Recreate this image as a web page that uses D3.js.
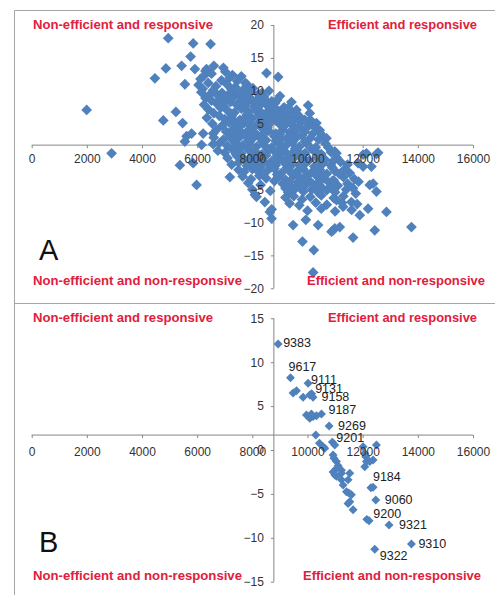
<!DOCTYPE html>
<html>
<head>
<meta charset="utf-8">
<script src="https://cdn.jsdelivr.net/npm/d3@7"></script>
<style>
  body { margin: 0; background: #fff; }
  svg { display: block; font-family: 'Liberation Sans', Arial, sans-serif; }
</style>
</head>
<body>
<div id="vis"></div>
<script>
// axis ticks
const effTicks = [0, 2000, 4000, 6000, 8000, 10000, 12000, 14000, 16000];
const respTicksA = [-20, -15, -10, -5, 0, 5, 10, 15, 20];
const respTicksB = [-15, -10, -5, 0, 5, 10, 15];

const quadrants = [
  'Non-efficient and responsive',
  'Efficient and responsive',
  'Non-efficient and non-responsive',
  'Efficient and non-responsive',
];

// axes cross at the means
const meanEff = 8780;
const meanRespA = 1.75;
const meanRespB = 1.7;

// panel A: [efficiency, response]
const pointsA = [
  [1993, 7.1], [2897, 0.5], [4467, 11.9], [4771, 5.5], [4866, 13.4], [4950, 18.0],
  [5228, 6.8], [5373, -1.3], [5435, 13.8], [5471, 5.1], [5554, 11.0], [5554, 2.3],
  [5615, 3.1], [5760, 15.2], [5797, 3.5], [5855, 17.2], [5855, -1.0], [5916, 13.3],
  [5978, -4.3], [6159, 1.8], [6217, 3.5], [6340, 13.3], [6485, 17.1], [6580, 3.5],
  [6580, 1.9], [6605, 13.8], [7184, -3.1], [8090, -5.8], [8152, -6.1], [8453, -6.9],
  [8514, 12.7], [8634, -8.4], [8695, -9.4], [8936, 12.1], [9418, 8.3], [9478, -10.4],
  [9599, 7.1], [9780, 5.8], [9817, -12.9], [9938, -9.6], [10021, 7.8], [10082, 6.6],
  [10228, -14.2], [10203, -17.6], [10324, 5.1], [10384, -10.4], [10445, 4.0], [10687, 2.8],
  [10927, -11.2], [10990, -10.9], [10870, -11.4], [10988, 0.8], [11049, 0.5], [11050, -6.6],
  [11170, -10.7], [11290, -7.6], [11592, -6.9], [11532, -2.5], [11652, -4.8], [11652, -12.3],
  [11895, -8.9], [11834, -1.0], [12015, -1.5], [12015, 0.3], [12136, 0.5], [12196, -7.9],
  [12257, -4.3], [12318, -1.5], [12378, -4.1], [12438, -11.2], [12499, -5.3], [12499, 0.4],
  [12559, 0.6], [12862, -8.4], [13768, -10.7],
  [6300, 13.0], [6520, 12.6], [7020, 12.9], [7280, 12.4], [7600, 12.2], [6950, 13.5],
  [6120, 11.8], [6880, 11.6], [7180, 12.0], [7450, 11.5], [7750, 11.2], [6250, 12.3],
  [6050, 10.9], [6400, 11.2], [6680, 10.7], [7080, 11.0], [7380, 10.6], [7820, 10.9],
  [8020, 10.4], [6200, 10.3],
  [6150, 9.8], [6580, 10.1], [6900, 9.7], [7250, 10.2], [7520, 9.6], [7700, 10.3],
  [7950, 9.9], [8220, 9.5], [8600, 10.0], [6450, 9.4],
  [6300, 8.9], [6520, 8.5], [6850, 9.1], [7050, 8.7], [7350, 9.2], [7650, 8.8],
  [7900, 9.0], [8150, 8.6], [8420, 9.1], [8700, 8.4], [9000, 9.2], [6700, 9.5],
  [6250, 7.9], [6700, 8.1], [6950, 7.7], [7200, 8.3], [7450, 7.8], [7800, 8.2],
  [8050, 7.6], [8300, 8.0], [8550, 7.7], [8820, 8.1], [9150, 7.5], [8950, 6.9],
  [6400, 7.2], [6600, 6.6], [7100, 7.0], [7350, 6.7], [7600, 7.3], [7850, 6.8],
  [8100, 7.1], [8350, 6.6], [8650, 7.2], [8900, 6.5], [9150, 6.9], [9400, 7.0],
  [6350, 5.9], [6800, 6.2], [7000, 5.7], [7250, 6.1], [7550, 5.6], [7750, 6.0],
  [8000, 5.8], [8250, 6.3], [8500, 5.6], [8750, 6.1], [9050, 5.7], [9300, 6.2],
  [9550, 5.9], [10100, 5.6],
  [6550, 5.0], [6900, 4.7], [7150, 5.2], [7400, 4.8], [7700, 5.1], [7950, 4.6],
  [8200, 5.0], [8450, 4.7], [8700, 5.3], [9000, 4.9], [9250, 5.1], [9500, 4.6],
  [9750, 5.2], [10250, 4.5],
  [6700, 4.1], [7050, 3.8], [7300, 4.2], [7600, 3.7], [7850, 4.0], [8100, 3.6],
  [8350, 4.3], [8600, 3.9], [8850, 3.5], [9100, 4.1], [9350, 3.7], [9650, 4.2],
  [9900, 3.8], [10450, 3.6],
  [6600, 2.9], [6950, 2.6], [7200, 3.1], [7500, 2.8], [7750, 3.2], [8000, 2.7],
  [8250, 3.0], [8500, 2.5], [8800, 3.1], [9050, 2.6], [9300, 3.0], [9550, 2.7],
  [9800, 3.2], [10100, 2.8], [10600, 2.9],
  [6800, 2.0], [7100, 1.6], [7400, 2.1], [7650, 1.7], [7900, 2.2], [8150, 1.5],
  [8400, 1.9], [8700, 1.4], [8950, 2.0], [9200, 1.6], [9450, 2.1], [9700, 1.5],
  [10000, 1.9], [10300, 1.4], [10650, 2.0],
  [6750, 0.9], [7000, 0.6], [7300, 1.0], [7600, 0.5], [7850, 1.1], [8100, 0.7],
  [8350, 0.4], [8600, 1.0], [8850, 0.6], [9100, 0.9], [9400, 0.3], [9650, 0.8],
  [9900, 0.5], [10200, 1.0], [10500, 0.4], [10850, 0.7],
  [7100, -0.2], [7450, 0.1], [7700, -0.4], [7950, 0.0], [8200, -0.3], [8500, 0.2],
  [8750, -0.5], [9000, -0.1], [9250, -0.4], [9550, 0.0], [9800, -0.3], [10050, -0.6],
  [10350, -0.2], [10650, -0.5], [11050, -0.1],
  [7250, -1.2], [7500, -0.9], [7800, -1.4], [8050, -1.0], [8300, -1.5], [8600, -1.1],
  [8850, -1.3], [9150, -0.9], [9400, -1.4], [9700, -1.2], [9950, -0.9], [10250, -1.5],
  [10550, -1.1], [10850, -1.3], [11200, -0.8], [11450, -1.2],
  [7500, -2.0], [7700, -2.3], [8000, -1.9], [8250, -2.4], [8550, -2.1], [8800, -1.8],
  [9050, -2.5], [9300, -2.0], [9600, -2.3], [9850, -1.9], [10150, -2.4], [10450, -2.0],
  [10700, -2.6], [11000, -2.2], [11350, -1.9],
  [7650, -3.0], [7950, -3.4], [8250, -2.9], [8500, -3.3], [8950, -3.1], [9200, -3.5],
  [9500, -2.9], [9750, -3.2], [10050, -3.6], [10350, -3.0], [10600, -3.3], [10900, -3.7],
  [11300, -3.1], [11700, -3.4],
  [7850, -4.0], [8300, -4.3], [9100, -4.1], [9400, -4.5], [9650, -3.9], [9900, -4.4],
  [10200, -4.2], [10500, -4.6], [10800, -4.0], [11100, -4.4], [11450, -4.1], [11850, -3.8],
  [8000, -5.0], [8650, -5.2], [9300, -5.4], [9550, -4.9], [9850, -5.3], [10150, -5.0],
  [10400, -5.5], [10700, -5.1], [11000, -5.4], [11400, -5.0], [11750, -5.6],
  [9200, -6.2], [9500, -6.0], [9800, -6.5], [10100, -6.1], [10500, -5.9], [10950, -6.3],
  [11300, -6.0],
  [9350, -7.1], [9700, -7.4], [10300, -7.0], [10700, -7.3], [11250, -7.0], [11800, -7.2],
  [8700, -8.0], [10000, -8.2], [10500, -7.9], [11000, -8.3], [11600, -8.1],
  [7150, 9.5], [7800, 9.4], [8350, 9.7],
  [6800, 8.6], [7550, 8.4], [8000, 8.5], [8450, 8.7], [8900, 8.6],
  [6850, 7.4], [7700, 7.6], [8200, 7.5], [8750, 7.6], [9300, 7.4],
  [7250, 6.5], [7800, 6.4], [8500, 6.6], [9050, 6.3], [9600, 6.6],
  [7300, 5.5], [7850, 5.4], [8350, 5.6], [8850, 5.5], [9400, 5.3], [9900, 5.6],
  [7500, 4.4], [8050, 4.5], [8550, 4.4], [9150, 4.6], [9750, 4.4], [10050, 4.7],
  [7400, 3.4], [7950, 3.3], [8450, 3.6], [9000, 3.4], [9500, 3.3], [10200, 3.5],
  [7300, 2.4], [7850, 2.5], [8350, 2.3], [8850, 2.4], [9350, 2.5], [9900, 2.3], [10400, 2.6],
  [7500, 1.3], [8000, 1.4], [8550, 1.2], [9050, 1.3], [9550, 1.2], [10100, 1.3], [10750, 1.4],
  [7400, 0.4], [8250, 0.2], [9250, 0.5], [9750, 0.2], [10350, 0.6],
  [7800, -0.7], [8400, -0.8], [8900, -0.7], [9400, -0.8], [9900, -0.6], [10450, -0.7], [10950, -0.6],
  [8150, -1.7], [8700, -1.6], [9250, -1.7], [9800, -1.6], [10350, -1.8], [10900, -1.7],
  [8400, -2.6], [8900, -2.7], [9450, -2.6], [10000, -2.8], [10550, -2.7], [11150, -2.6],
  [8800, -3.7], [9350, -3.8], [9850, -3.7], [10400, -3.9], [10950, -3.6],
  [9200, -4.8], [9750, -4.7], [10300, -4.9], [10850, -4.7],
];

// panel B: [efficiency, response, id]
const pointsB = [
  [8935, 12.07, '9383'], [9383, 8.24, '9617'], [10021, 7.6, '9111'], [10150, 6.4, '9131'],
  [10200, 6.0, '9158'], [10506, 4.1, '9187'], [10783, 2.73, '9269'], [10900, 0.9, '9201'],
  [12300, -4.3, '9184'], [12475, -5.7, '9060'], [12150, -7.9, '9200'], [12956, -8.54, '9321'],
  [13767, -10.7, '9310'], [12438, -11.3, '9322'],
  [9478, 6.5, ''], [9600, 6.75, ''], [9840, 6.0, ''], [10082, 6.26, ''], [9961, 3.99, ''],
  [10082, 3.6, ''], [10203, 3.8, ''], [10324, 3.9, ''], [10140, 4.1, ''], [10300, 1.7, ''],
  [10434, 0.76, ''], [10565, 0.38, ''], [10626, 0.2, ''], [10989, 0.57, ''], [10927, -0.57, ''],
  [10960, -0.95, ''], [11050, -1.3, ''], [11110, -1.8, ''], [11050, -2.1, ''], [11231, -2.3, ''],
  [10927, -2.5, ''], [10990, -2.85, ''], [11231, -2.65, ''], [11050, -3.0, ''], [11532, -2.65, ''],
  [11471, -3.4, ''], [11231, -3.4, ''], [11290, -4.0, ''], [11412, -4.75, ''], [11500, -4.9, ''],
  [11592, -5.1, ''], [11532, -5.9, ''], [11470, -6.1, ''], [11652, -6.8, ''], [12015, 0.38, ''],
  [12076, -0.4, ''], [12112, -0.76, ''], [12136, -1.3, ''], [12076, -1.9, ''], [12257, -1.3, ''],
  [12378, -1.14, ''], [12499, 0.57, ''], [12378, -4.25, ''], [12232, -8.05, ''],
];

// where each id label sits relative to its marker (px)
const labelOffset = {
  '9383': [5, -1], '9617': [-2, -11], '9111': [3, -4], '9131': [3.5, -5.5],
  '9158': [8.5, -0.5], '9187': [7, -4], '9269': [9, 0], '9201': [4, -4],
  '9184': [2, -11], '9060': [9, 0], '9200': [6.5, -5.5], '9321': [10, 0],
  '9310': [7, 0], '9322': [5, 6],
};

const width = 495;
const height = 601;
const blue = '#4f81bd';
const red = '#e0203c';
const axisGrey = '#868686';

const svg = d3.select('#vis').append('svg')
    .attr('width', width)
    .attr('height', height);

// outer frame
svg.append('path')
    .attr('d', 'M14.5,595V10.5H495M14.5,303.5H495')
    .attr('fill', 'none')
    .attr('stroke', '#a6a6a6');

const x = d3.scaleLinear()
    .domain([0, 16000])
    .range([31.7, 473]);

const panels = [
  {name: 'A', data: pointsA, ticks: respTicksA, domain: [-20, 20], range: [288.3, 25],
   cross: meanRespA, size: 58, xPad: 6, quadY: [29, 285], brX: 307, letterY: 260},
  {name: 'B', data: pointsB, ticks: respTicksB, domain: [-15, 15], range: [581.7, 318.3],
   cross: meanRespB, size: 40, xPad: 9, quadY: [321.5, 580], brX: 303, letterY: 552},
];

panels.forEach(drawPanel);


function drawPanel(p) {
  const y = d3.scaleLinear()
      .domain(p.domain)
      .range(p.range);

  const g = svg.append('g');

  // axis lines sit under the markers
  g.append('line')
      .attr('x1', x.range()[0]).attr('x2', x.range()[1])
      .attr('y1', y(p.cross)).attr('y2', y(p.cross))
      .attr('stroke', axisGrey);
  g.append('line')
      .attr('x1', x(meanEff)).attr('x2', x(meanEff))
      .attr('y1', y.range()[0]).attr('y2', y.range()[1])
      .attr('stroke', axisGrey);

  const symbol = d3.symbol().type(d3.symbolSquare).size(p.size);

  g.append('g')
    .selectAll('path')
    .data(p.data)
    .join('path')
      .attr('d', symbol)
      .attr('transform', d => `translate(${x(d[0])},${y(d[1])}) rotate(45)`)
      .attr('fill', blue);

  // ticks and tick labels over the markers
  const xAxis = g.append('g')
      .attr('transform', `translate(0,${y(p.cross)})`)
      .call(d3.axisBottom(x)
        .tickValues(effTicks)
        .tickFormat(d3.format('d'))
        .tickSizeInner(3)
        .tickSizeOuter(0)
        .tickPadding(p.xPad));

  const yAxis = g.append('g')
      .attr('transform', `translate(${x(meanEff)},0)`)
      .call(d3.axisLeft(y)
        .tickValues(p.ticks)
        .tickFormat(d3.format('d'))
        .tickSizeInner(3)
        .tickSizeOuter(0)
        .tickPadding(7));

  [xAxis, yAxis].forEach(a => {
    a.select('.domain').remove();
    a.selectAll('.tick line').attr('stroke', axisGrey);
    a.selectAll('.tick text')
        .attr('fill', '#333')
        .attr('font-size', 12)
        .attr('font-family', "'Liberation Sans', Arial, sans-serif");
  });

  // id labels (panel B)
  g.append('g')
    .selectAll('text')
    .data(p.data.filter(d => d[2]))
    .join('text')
      .attr('x', d => x(d[0]) + labelOffset[d[2]][0])
      .attr('y', d => y(d[1]) + labelOffset[d[2]][1])
      .attr('dy', '0.35em')
      .attr('font-size', 12.5)
      .attr('fill', '#222')
      .text(d => d[2]);

  // quadrant captions
  const quadPos = [
    {x: 33, y: p.quadY[0], w: 180},
    {x: 328, y: p.quadY[0], w: 149},
    {x: 33, y: p.quadY[1], w: 209},
    {x: p.brX, y: p.quadY[1], w: 178},
  ];

  g.append('g')
    .selectAll('text')
    .data(quadrants)
    .join('text')
      .attr('x', (d, i) => quadPos[i].x)
      .attr('y', (d, i) => quadPos[i].y)
      .attr('textLength', (d, i) => quadPos[i].w)
      .attr('lengthAdjust', 'spacingAndGlyphs')
      .attr('font-size', 12)
      .attr('font-weight', 'bold')
      .attr('fill', red)
      .text(d => d);

  g.append('text')
      .attr('x', 39)
      .attr('y', p.letterY)
      .attr('font-size', 29)
      .attr('fill', '#111')
      .text(p.name);
}
</script>
</body>
</html>
